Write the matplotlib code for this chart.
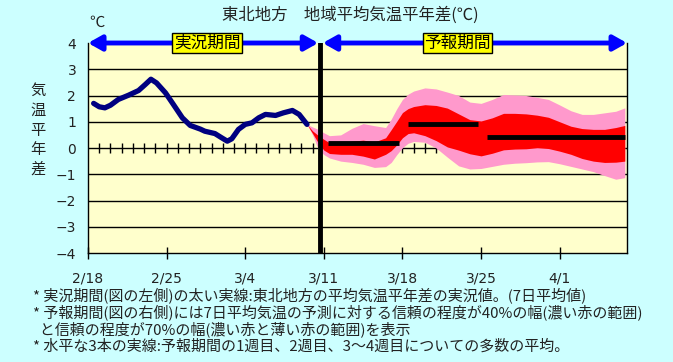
import numpy as np
import matplotlib.pyplot as plt

plt.rcParams['font.family'] = ['Noto Sans CJK JP', 'DejaVu Sans']

# day index counted from 2/18
tick_days = [0, 7, 14, 21, 28, 35, 42]
tick_labels = ['2/18', '2/25', '3/4', '3/11', '3/18', '3/25', '4/1']

# observed 7-day mean anomaly
obs_days = [0.5, 1.0, 1.5, 2.0, 2.7, 3.6, 4.5, 5.1, 5.6, 6.1, 6.9, 7.6, 8.4, 9.1, 10.0,
            10.4, 11.3, 11.9, 12.4, 12.8, 13.4, 14.0, 14.6, 15.2, 15.8, 16.7, 17.4, 18.2, 18.8, 19.5]
obs_vals = [1.70, 1.57, 1.53, 1.63, 1.85, 2.01, 2.19, 2.42, 2.62, 2.48, 2.10, 1.66, 1.15, 0.86, 0.72,
            0.64, 0.55, 0.39, 0.26, 0.35, 0.71, 0.90, 0.96, 1.15, 1.28, 1.24, 1.34, 1.43, 1.28, 0.90]

# forecast bands
fc_days = [19.5, 20.0, 20.5, 21.0, 21.5, 22.5, 23.5, 24.5, 25.5, 26.5, 27.0, 27.5, 28.0, 28.5,
           29.0, 30.0, 31.0, 32.0, 33.0, 34.0, 35.0, 36.0, 37.0, 38.0, 39.0, 40.0, 41.0, 42.0,
           43.0, 44.0, 45.0, 46.0, 47.0, 47.8]
hi70 = [0.90, 0.80, 0.71, 0.58, 0.47, 0.50, 0.75, 0.93, 0.85, 0.78, 1.10, 1.50, 1.85, 2.05,
        2.17, 2.29, 2.25, 2.13, 2.00, 1.75, 1.70, 1.85, 2.04, 2.02, 2.00, 1.93, 1.85, 1.64,
        1.42, 1.28, 1.28, 1.34, 1.40, 1.53]
hi40 = [0.90, 0.65, 0.48, 0.33, 0.20, 0.16, 0.26, 0.30, 0.23, 0.39, 0.70, 1.02, 1.35, 1.50,
        1.58, 1.65, 1.62, 1.52, 1.30, 1.08, 1.03, 1.15, 1.32, 1.32, 1.30, 1.25, 1.17, 1.00,
        0.83, 0.74, 0.71, 0.71, 0.78, 0.86]
lo40 = [0.90, 0.55, 0.20, -0.08, -0.21, -0.24, -0.24, -0.31, -0.42, -0.24, -0.10, 0.12, 0.39, 0.55,
        0.58, 0.47, 0.28, 0.04, -0.08, -0.22, -0.30, -0.20, -0.07, -0.04, -0.03, 0.01, -0.02, -0.12,
        -0.24, -0.40, -0.50, -0.55, -0.54, -0.50]
lo70 = [0.90, 0.50, -0.05, -0.25, -0.38, -0.50, -0.55, -0.62, -0.74, -0.71, -0.55, -0.25, 0.01, 0.18,
        0.25, 0.22, 0.00, -0.35, -0.68, -0.80, -0.78, -0.70, -0.62, -0.58, -0.56, -0.53, -0.52, -0.60,
        -0.70, -0.80, -0.90, -1.05, -1.19, -1.13]

# weekly means (1週目, 2週目, 3~4週目)
week_start = [21.4, 28.5, 35.5]
week_end = [27.7, 34.7, 47.8]
week_mean = [0.20, 0.90, 0.43]

split_day = 20.7

notes = [
    '* 実況期間(図の左側)の太い実線:東北地方の平均気温平年差の実況値。(7日平均値)',
    '* 予報期間(図の右側)には7日平均気温の予測に対する信頼の程度が40%の幅(濃い赤の範囲)',
    '  と信頼の程度が70%の幅(濃い赤と薄い赤の範囲)を表示',
    '* 水平な3本の実線:予報期間の1週目、2週目、3〜4週目についての多数の平均。',
]

fig = plt.figure(figsize=(6.73, 3.62), dpi=100, facecolor='#CCFFFF')
ax = fig.add_axes([0.1308, 0.3011, 0.8009, 0.5801])
ax.set_facecolor('#FFFFCC')
ax.set_xlim(0, 48)
ax.set_ylim(-4, 4)

for y in range(-3, 4):
    ax.axhline(y, color='black', lw=1, zorder=1)
ax.vlines(np.arange(1, 48), -0.2, 0.2, color='black', lw=1, zorder=1)

ax.fill_between(fc_days, lo70, hi70, color='#FF99CC', lw=0, zorder=2)
ax.fill_between(fc_days, lo40, hi40, color='#FF0000', lw=0, zorder=3)
ax.hlines(week_mean, week_start, week_end, color='black', lw=3.5, zorder=4)
ax.plot(obs_days, obs_vals, color='#000080', lw=3.8, solid_capstyle='round', zorder=5)
ax.axvline(split_day, color='black', lw=3.5, zorder=6)

for s in ['left', 'right', 'bottom']:
    ax.spines[s].set_color('black')
    ax.spines[s].set_linewidth(1)
ax.spines['top'].set_visible(False)

ax.set_yticks(range(-4, 5))
ax.tick_params(axis='y', length=0, pad=8.5, labelsize=10, labelcolor='#222222',
               labelfontfamily='DejaVu Sans')
ax.set_xticks(tick_days)
ax.set_xticklabels(tick_labels)
ax.tick_params(axis='x', direction='inout', length=8, width=1, pad=9.5, labelsize=10,
               labelcolor='#222222', labelfontfamily='DejaVu Sans')

arrow = dict(arrowstyle='<|-|>,head_length=0.8,head_width=0.45', color='#0000FF', lw=3.5,
             shrinkA=0, shrinkB=0)
ax.annotate('', xy=(0, 4), xytext=(split_day - 0.2, 4), arrowprops=arrow, zorder=7)
ax.annotate('', xy=(split_day + 0.2, 4), xytext=(48, 4), arrowprops=arrow, zorder=7)
box = dict(boxstyle='square,pad=0.1', fc='#FFFF00', ec='black', lw=1)
ax.text(10.6, 4, '実況期間', ha='center', va='center', fontsize=12, bbox=box, zorder=8)
ax.text(32.9, 4, '予報期間', ha='center', va='center', fontsize=12, bbox=box, zorder=8)

fig.text(350 / 673, 1 - 15 / 362, '東北地方　地域平均気温平年差(℃)', ha='center', va='center',
         fontsize=11.8, color='#222222')
fig.text(97 / 673, 1 - 22 / 362, '℃', ha='center', va='center', fontsize=11, color='#222222')
fig.text(38 / 673, 1 - 130 / 362, '\n'.join('気温平年差'), ha='center', va='center',
         fontsize=11, linespacing=1.2, color='#222222')

fig.text(33 / 673, 1 - 287 / 362, '\n'.join(notes), ha='left', va='top', fontsize=10.8,
         linespacing=1.12, color='#222222')

fig.savefig('out.png', dpi=100, facecolor=fig.get_facecolor())
